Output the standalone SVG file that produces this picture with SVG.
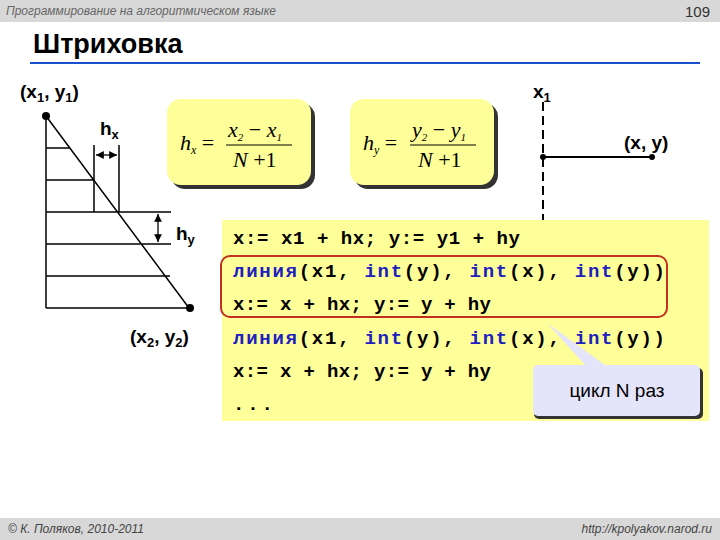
<svg xmlns="http://www.w3.org/2000/svg" width="720" height="540" viewBox="0 0 720 540">
<style>
.s{font-family:"Liberation Sans",Arial,sans-serif;font-weight:bold;font-size:19px;fill:#000}
.c{font-family:"Liberation Mono","Courier New",monospace;font-weight:bold;font-size:19px;fill:#000}
.k{fill:#2020c0}
.f{font-family:"Liberation Serif","Times New Roman",serif;font-style:italic;font-size:22px}
.l{stroke:#000;stroke-width:1.5;fill:none}
</style>
<defs>
<marker id="a" viewBox="0 0 10 10" refX="10" refY="5" markerWidth="6" markerHeight="6" orient="auto-start-reverse"><path d="M0,0L10,5L0,10z"/></marker>
</defs>
<rect width="720" height="540" fill="#fff"/>
<rect width="720" height="22" fill="#d8d8d8"/>
<text x="6" y="15" font-family="Liberation Sans,sans-serif" font-style="italic" font-size="12" fill="#666">Программирование на алгоритмическом языке</text>
<text x="710" y="17" text-anchor="end" font-family="Liberation Sans,sans-serif" font-size="15" fill="#333">109</text>
<text x="33" y="53" font-family="Liberation Sans,sans-serif" font-weight="bold" font-size="27">Штриховка</text>
<line x1="30" y1="63" x2="700" y2="63" stroke="#1a4fd0" stroke-width="2"/>
<rect y="518" width="720" height="22" fill="#d8d8d8"/>
<text x="8" y="533" font-family="Liberation Sans,sans-serif" font-style="italic" font-size="12" fill="#444">© К. Поляков, 2010-2011</text>
<text x="712" y="533" text-anchor="end" font-family="Liberation Sans,sans-serif" font-style="italic" font-size="12" fill="#444">http://kpolyakov.narod.ru</text>

<g id="figure">
<path class="l" d="M46,116V308M46,148H70M46,180H94M46,212H171M46,244H171M46,276H170M46,308H189M46,116L189,308"/>
<path class="l" d="M94,145V212M119,145V212"/>
<line x1="96" y1="155" x2="117" y2="155" stroke="#000" stroke-width="1.3" marker-start="url(#a)" marker-end="url(#a)"/>
<line x1="158" y1="214" x2="158" y2="242" stroke="#000" stroke-width="1.3" marker-start="url(#a)" marker-end="url(#a)"/>
<circle cx="46" cy="116" r="4"/><circle cx="190" cy="308" r="4"/>
<text class="s" x="100" y="135">h<tspan font-size="13" dy="4">x</tspan></text>
<text class="s" x="176" y="240">h<tspan font-size="13" dy="4">y</tspan></text>
<text class="s" x="20" y="98">(x<tspan font-size="13" dy="4">1</tspan><tspan dy="-4">, y</tspan><tspan font-size="13" dy="4">1</tspan><tspan dy="-4">)</tspan></text>
<text class="s" x="130" y="343">(x<tspan font-size="13" dy="4">2</tspan><tspan dy="-4">, y</tspan><tspan font-size="13" dy="4">2</tspan><tspan dy="-4">)</tspan></text>
</g>

<g id="formula-hx">
<rect x="171" y="103" width="144" height="86" rx="14" fill="#333"/>
<rect x="167" y="99" width="144" height="86" rx="14" fill="#ffff99"/>
<text class="f" x="180" y="150">h<tspan font-size="12" dy="4">x</tspan><tspan font-style="normal" dy="-4"> =</tspan></text>
<text class="f" x="228" y="137" font-size="20">x<tspan font-size="11" dy="4">2</tspan><tspan font-style="normal" dy="-4"> − </tspan>x<tspan font-size="11" dy="4">1</tspan></text>
<line x1="226" y1="145" x2="292" y2="145" stroke="#000" stroke-width="1"/>
<text class="f" x="233" y="167" font-size="20">N<tspan font-style="normal"> +1</tspan></text>
</g>

<g id="formula-hy">
<rect x="354" y="103" width="144" height="86" rx="14" fill="#333"/>
<rect x="350" y="99" width="144" height="86" rx="14" fill="#ffff99"/>
<text class="f" x="363" y="150">h<tspan font-size="12" dy="4">y</tspan><tspan font-style="normal" dy="-4"> =</tspan></text>
<text class="f" x="412" y="137" font-size="20">y<tspan font-size="11" dy="4">2</tspan><tspan font-style="normal" dy="-4"> − </tspan>y<tspan font-size="11" dy="4">1</tspan></text>
<line x1="410" y1="145" x2="476" y2="145" stroke="#000" stroke-width="1"/>
<text class="f" x="418" y="167" font-size="20">N<tspan font-style="normal"> +1</tspan></text>
</g>

<g id="xy">
<line x1="543" y1="102" x2="543" y2="226" stroke="#000" stroke-width="2" stroke-dasharray="9,5"/>
<line x1="543" y1="157" x2="652" y2="157" stroke="#000" stroke-width="2"/>
<circle cx="543" cy="157" r="3"/><circle cx="652" cy="157" r="3"/>
<text class="s" x="533" y="98">x<tspan font-size="13" dy="4">1</tspan></text>
<text class="s" x="624" y="149">(x, y)</text>
</g>

<g id="code">
<rect x="222" y="220" width="487" height="201" fill="#ffff99"/>
<rect x="221" y="256" width="446" height="61" rx="9" fill="none" stroke="#c03020" stroke-width="2"/>
<text class="c" x="233" y="244" textLength="287" lengthAdjust="spacing">x:= x1 + hx; y:= y1 + hy</text>
<text class="c" x="233" y="277" textLength="432" lengthAdjust="spacing"><tspan class="k">линия</tspan>(x1, <tspan class="k">int</tspan>(y), <tspan class="k">int</tspan>(x), <tspan class="k">int</tspan>(y))</text>
<text class="c" x="233" y="310" textLength="258" lengthAdjust="spacing">x:= x + hx; y:= y + hy</text>
<text class="c" x="233" y="344" textLength="432" lengthAdjust="spacing"><tspan class="k">линия</tspan>(x1, <tspan class="k">int</tspan>(y), <tspan class="k">int</tspan>(x), <tspan class="k">int</tspan>(y))</text>
<text class="c" x="233" y="377" textLength="258" lengthAdjust="spacing">x:= x + hx; y:= y + hy</text>
<text class="c" x="233" y="410" textLength="40" lengthAdjust="spacing">...</text>
</g>

<g id="callout">
<path d="M539,368H698a5,5 0 0 1 5,5V414a5,5 0 0 1-5,5H539a5,5 0 0 1-5-5V373a5,5 0 0 1 5-5z" fill="#333"/>
<path d="M538,365H585L547,323L605,365H695a5,5 0 0 1 5,5V411a5,5 0 0 1-5,5H538a5,5 0 0 1-5-5V370a5,5 0 0 1 5-5z" fill="#e4e4fa"/>
<text x="617" y="397" text-anchor="middle" font-family="Liberation Sans,Arial,sans-serif" font-size="19">цикл N раз</text>
</g>
</svg>
